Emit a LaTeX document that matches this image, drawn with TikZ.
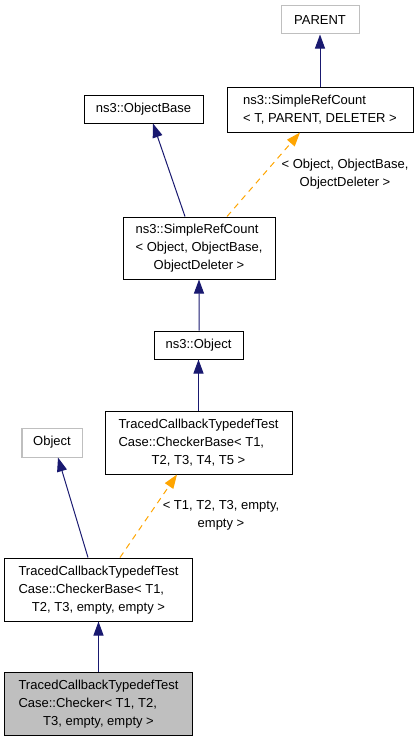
\documentclass[tikz,border=0pt]{standalone}
\usepackage{fontspec}
\setmainfont{Liberation Sans}
\usetikzlibrary{arrows.meta}
\definecolor{edgeblue}{HTML}{191970}
\definecolor{edgeorange}{HTML}{FFA500}
\definecolor{greybox}{HTML}{BFBFBF}
\newcommand{\dlab}[2]{\begin{tabular}{@{}l@{}}#1\\\multicolumn{1}{@{}c@{}}{#2}\end{tabular}}
\tikzset{
  cls/.style={draw=black, line width=1bp, inner sep=0pt, align=center,
    font=\fontsize{13bp}{18bp}\selectfont},
  ext/.style={cls, draw=greybox},
  cur/.style={cls, fill=greybox},
  inh/.style={draw=edgeblue, line width=1bp, -{Triangle[length=14bp,width=10bp]}},
  tmpl/.style={draw=edgeorange, line width=1bp, dash pattern=on 6bp off 5bp,
    -{Triangle[length=14bp,width=10bp,fill=edgeorange]}},
  elab/.style={inner sep=0pt, align=center, font=\fontsize{13bp}{18bp}\selectfont}
}
\begin{document}
\begin{tikzpicture}[x=1bp,y=-1bp]
\useasboundingbox (0,0) rectangle (419,741);
\node[ext, minimum width=78bp, minimum height=28bp] (parent) at (320,20) {PARENT};
\node[cls, minimum width=186bp, minimum height=45bp] (srct) at (320,109.5)
  {\dlab{ns3::SimpleRefCount}{< T, PARENT, DELETER >}};
\node[cls, minimum width=119bp, minimum height=28bp] (objbase) at (143.5,109) {ns3::ObjectBase};
\node[cls, minimum width=152bp, minimum height=62bp] (srco) at (199,248)
  {\dlab{ns3::SimpleRefCount\\< Object, ObjectBase,}{ObjectDeleter >}};
\node[cls, minimum width=89bp, minimum height=28bp] (nsobj) at (198.5,345) {ns3::Object};
\node[cls, minimum width=187bp, minimum height=63bp] (cb5) at (198.5,442.5)
  {\dlab{TracedCallbackTypedefTest\\Case::CheckerBase< T1,}{T2, T3, T4, T5 >}};
\node[ext, minimum width=60bp, minimum height=29bp] (obj) at (52,442.5) {Object};
\node[cls, minimum width=187bp, minimum height=63bp] (cbe) at (98.5,589.5)
  {\dlab{TracedCallbackTypedefTest\\Case::CheckerBase< T1,}{T2, T3, empty, empty >}};
\node[cur, minimum width=187bp, minimum height=63bp] (chk) at (98.5,703.5)
  {\dlab{TracedCallbackTypedefTest\\Case::Checker< T1, T2,}{T3, empty, empty >}};

\node[elab] (lab1) at (345,174) {< Object, ObjectBase,\\ObjectDeleter >};
\node[elab] (lab2) at (221,515.5) {< T1, T2, T3, empty,\\empty >};

\draw[inh] (srct.north) -- (parent.south);
\draw[inh] ([xshift=-14bp]srco.north) -- ([xshift=9.5bp]objbase.south);
\draw[tmpl] ([xshift=28bp]srco.north) -- ([xshift=-20bp]srct.south);
\draw[inh] ([xshift=0.5bp]nsobj.north) -- (srco.south);
\draw[inh] (cb5.north) -- (nsobj.south);
\draw[inh] ([xshift=-10.5bp]cbe.north) -- ([xshift=6bp]obj.south);
\draw[tmpl] ([xshift=21.5bp]cbe.north) -- ([xshift=-21.5bp]cb5.south);
\draw[inh] (chk.north) -- (cbe.south);
\end{tikzpicture}
\end{document}
